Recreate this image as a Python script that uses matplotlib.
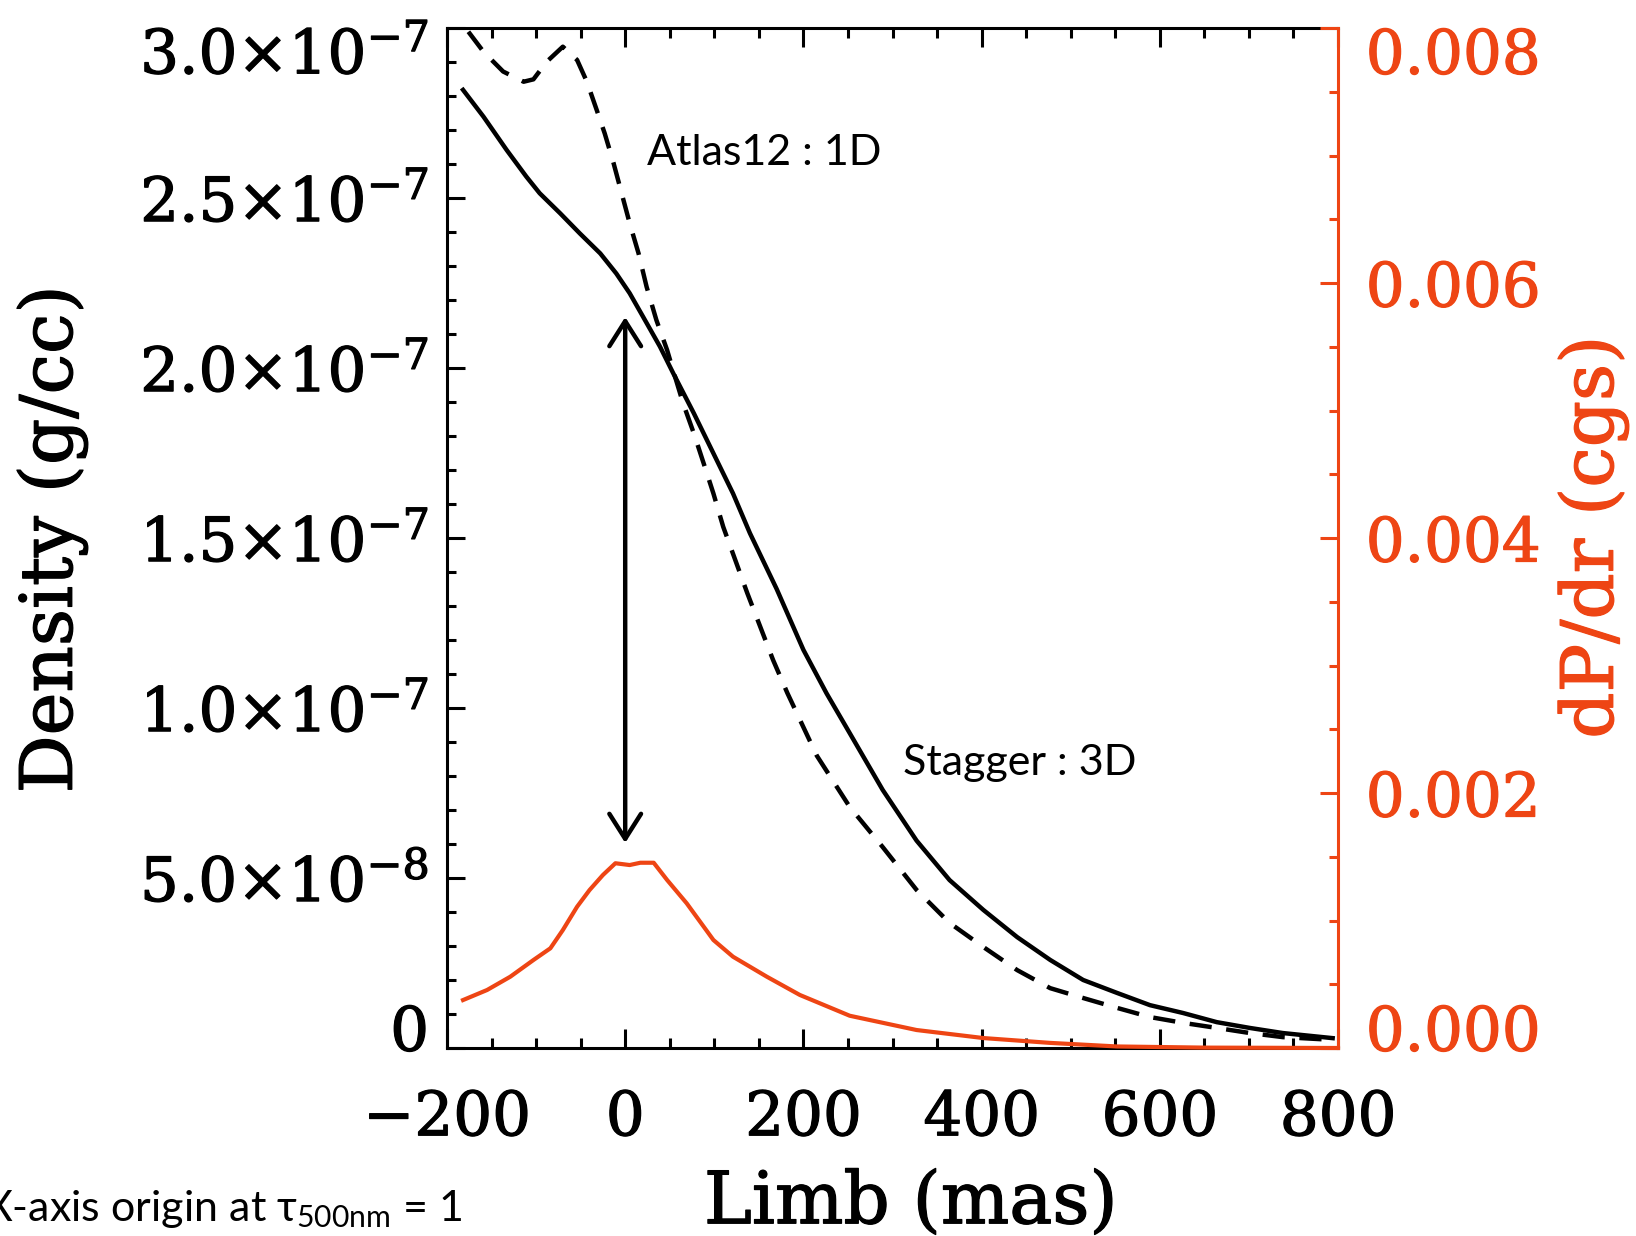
import matplotlib
matplotlib.use("Agg")
import matplotlib.pyplot as plt
import matplotlib.patheffects as pe
from matplotlib.ticker import MultipleLocator, FuncFormatter
from matplotlib.transforms import ScaledTranslation

# ---------------- data ----------------
# Stagger 3D density (units of 1e-7 g/cc)
stagger_x = [-182, -159, -133, -111, -96, -73, -51, -28, -10, 5, 20, 39, 54, 77, 99,
             121, 140, 170, 200, 226, 252, 289, 327, 364, 402, 440, 477, 514, 552,
             589, 626, 664, 701, 738, 794]
stagger_y = [2.818, 2.739, 2.641, 2.563, 2.514, 2.455, 2.396, 2.337, 2.278, 2.220,
             2.151, 2.063, 1.984, 1.867, 1.749, 1.631, 1.514, 1.350, 1.171, 1.043,
             0.926, 0.759, 0.610, 0.494, 0.406, 0.326, 0.259, 0.200, 0.162, 0.126,
             0.103, 0.076, 0.059, 0.044, 0.029]

# Atlas12 1D density (units of 1e-7 g/cc)
atlas_x = [-176, -159, -137, -114, -103, -88, -70, -54, -43, -32, -23, -13, -4, 5,
           15, 24, 35, 47, 56, 65, 77, 88, 99, 110, 137, 166, 182, 215, 252, 289,
           327, 364, 402, 440, 477, 514, 552, 589, 626, 664, 701, 738, 794]
atlas_y = [2.989, 2.930, 2.872, 2.842, 2.849, 2.901, 2.945, 2.906, 2.842, 2.759,
           2.690, 2.602, 2.514, 2.426, 2.337, 2.239, 2.141, 2.053, 1.974, 1.896,
           1.808, 1.720, 1.631, 1.533, 1.338, 1.141, 1.044, 0.860, 0.709, 0.591,
           0.465, 0.368, 0.297, 0.229, 0.176, 0.147, 0.118, 0.091, 0.074, 0.059,
           0.044, 0.032, 0.024]

# dP/dr (cgs)
dpdr_x = [-182, -155, -129, -103, -84, -70, -54, -40, -25, -11, 5, 17, 32, 47, 69,
          99, 121, 159, 196, 252, 327, 402, 477, 552, 650, 800]
dpdr_y = [0.000376, 0.000455, 0.000559, 0.000690, 0.000782, 0.000925, 0.001108,
          0.001239, 0.001357, 0.001449, 0.001435, 0.001453, 0.001453, 0.001318,
          0.001135, 0.000847, 0.000716, 0.000559, 0.000416, 0.000253, 0.000141,
          0.000078, 0.000040, 0.000012, 0.000003, 0.0]

arrow_x = 0.0
arrow_y = [0.603e-7, 2.15e-7]

x_ticks = [-200, 0, 200, 400, 600, 800]
left_ticks = [0, 0.5e-7, 1.0e-7, 1.5e-7, 2.0e-7, 2.5e-7, 3.0e-7]
right_ticks = [0.0, 0.002, 0.004, 0.006, 0.008]

ORANGE = "#EE4514"
SANS = ["Lato", "DejaVu Sans"]

plt.rcParams["font.family"] = ["DejaVu Serif"]
plt.rcParams["mathtext.fontset"] = "dejavuserif"
plt.rcParams["mathtext.rm"] = "Lato"
plt.rcParams["mathtext.it"] = "Lato"
plt.rcParams["mathtext.bf"] = "Lato:bold"


def heavy(color):
    return [pe.withStroke(linewidth=0.9, foreground=color)]


fig = plt.figure(figsize=(16.36, 12.36), dpi=100)
ax = fig.add_axes([447 / 1636, 1 - 1048 / 1236, (1338 - 447) / 1636, (1048 - 28) / 1236])
ax2 = ax.twinx()

ax.plot(stagger_x, [v * 1e-7 for v in stagger_y], color="black", lw=3.2, zorder=3)
ax.plot(atlas_x, [v * 1e-7 for v in atlas_y], color="black", lw=3.2,
        linestyle=(0, (5, 3.3)), zorder=3)
ax2.plot(dpdr_x, dpdr_y, color=ORANGE, lw=3.0, clip_on=False, zorder=3)

ax.set_xlim(-200, 800)
ax.set_ylim(0, 3.0e-7)
ax2.set_ylim(0, 0.008)

ax.annotate("", xy=(arrow_x, arrow_y[1]), xytext=(arrow_x, arrow_y[0]),
            arrowprops=dict(arrowstyle="<->,head_length=0.6,head_width=0.38",
                            lw=3.2, color="black", shrinkA=0, shrinkB=0,
                            mutation_scale=30))

# ticks
ax.set_xticks(x_ticks)
ax.xaxis.set_minor_locator(MultipleLocator(50))
ax.set_yticks(left_ticks)
ax.yaxis.set_minor_locator(MultipleLocator(1e-8))
ax2.set_yticks(right_ticks)
ax2.yaxis.set_minor_locator(MultipleLocator(0.0005))


def left_fmt(v, pos):
    if abs(v) < 1e-12:
        return "0"
    exp = -8 if v < 0.95e-7 else -7
    mant = v / 10.0 ** exp
    return r"$%.1f{\times}10^{%d}$" % (mant, exp)


ax.yaxis.set_major_formatter(FuncFormatter(left_fmt))
ax2.yaxis.set_major_formatter(FuncFormatter(lambda v, p: "%.3f" % v))

ax.tick_params(axis="x", which="both", direction="in", top=True, bottom=True,
               width=2.2, color="black", labelsize=44, pad=29)
ax.tick_params(axis="x", which="major", length=14)
ax.tick_params(axis="x", which="minor", length=7)
ax.tick_params(axis="y", which="both", direction="in", left=True, right=False,
               width=2.2, labelsize=44, pad=13)
ax.tick_params(axis="y", which="major", length=13)
ax.tick_params(axis="y", which="minor", length=6.5)
ax2.tick_params(axis="y", which="both", direction="in", right=True, left=False,
                width=2.2, color=ORANGE, labelcolor=ORANGE, labelsize=44, pad=20)
ax2.tick_params(axis="y", which="major", length=13)
ax2.tick_params(axis="y", which="minor", length=6.5)

for s in ax.spines.values():
    s.set_linewidth(2.2)
    s.set_color("black")
ax.spines["right"].set_visible(False)
for name in ["left", "top", "bottom"]:
    ax2.spines[name].set_visible(False)
ax2.spines["right"].set_color(ORANGE)
ax2.spines["right"].set_linewidth(2.2)

# heavier glyphs, and edge labels shifted inward (as in the original IDL plot)
for t in ax.xaxis.get_major_ticks():
    t.label1.set_path_effects(heavy("black"))
for a, color in ((ax, "black"), (ax2, ORANGE)):
    ticks = a.yaxis.get_major_ticks()
    labs = [t.label2 if a is ax2 else t.label1 for t in ticks]
    for lab in labs:
        lab.set_path_effects(heavy(color))
    labs[0].set_transform(labs[0].get_transform()
                          + ScaledTranslation(0, 15 / 72, fig.dpi_scale_trans))
    labs[-1].set_transform(labs[-1].get_transform()
                           + ScaledTranslation(0, -16 / 72, fig.dpi_scale_trans))

# axis titles
fig.text(52 / 1636, 1 - 539 / 1236, "Density (g/cc)", rotation=90, ha="center",
         va="center", fontsize=52, color="black", path_effects=heavy("black"))
fig.text(911 / 1636, 1 - 1203 / 1236, "Limb (mas)", ha="center", va="center",
         fontsize=52, color="black", path_effects=heavy("black"))
fig.text(1593 / 1636, 1 - 537 / 1236, "dP/dr (cgs)", rotation=90, ha="center",
         va="center", fontsize=52, color=ORANGE, path_effects=heavy(ORANGE))

# annotations
ax.text(24.5, 2.597e-7, "Atlas12 : 1D", family=SANS, fontsize=31,
        ha="left", va="baseline")
ax.text(311.8, 0.803e-7, "Stagger : 3D", family=SANS, fontsize=31,
        ha="left", va="baseline")
fig.text(-16 / 1636, 1 - 1221 / 1236, r"X-axis origin at $\tau_{\mathrm{500nm}}$ = 1",
         family=SANS, fontsize=31, ha="left", va="baseline",
         math_fontfamily="custom")

fig.savefig("out.png", dpi=100)
